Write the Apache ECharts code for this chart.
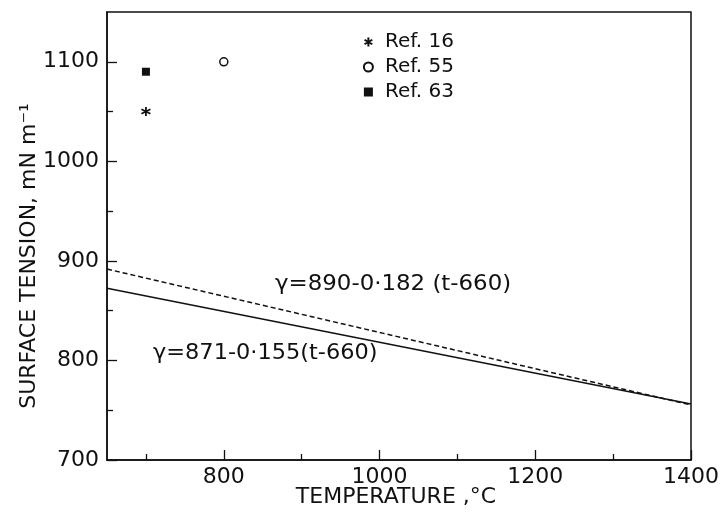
<!DOCTYPE html>
<html><head><meta charset="utf-8">
<script src="https://cdn.jsdelivr.net/npm/echarts@6/dist/echarts.min.js"></script>
<style>html,body{margin:0;padding:0;background:#fff}#c{width:722px;height:512px}</style>
</head><body><div id="c"></div>
<script>
// Data
const ref16 = [[700, 1050]];
const ref55 = [[800, 1100]];
const ref63 = [[700, 1090]];
const fitSolid = [[650, 872.6], [1400, 756.3]];   // γ=871-0·155(t-660)
const fitDashed = [[650, 891.8], [1400, 755.3]];  // γ=890-0·182(t-660)
const xMajorTicks = [800, 1000, 1200, 1400];
const xMinorTicks = [700, 900, 1100, 1300];
const yMajorTicks = [700, 800, 900, 1000, 1100];
const yMinorTicks = [750, 850, 950, 1050];
const seriesNames = ['Ref. 16', 'Ref. 55', 'Ref. 63'];

const FONT = 'DejaVu Sans';
const INK = '#111';
const starPath = 'path://M0,-10L0,10M-8.66,-5L8.66,5M-8.66,5L8.66,-5';
const fmt = v => String(v);

const chart = echarts.init(document.getElementById('c'));
const baseX = {type: 'value', min: 650, max: 1400, splitLine: {show: false}, gridIndex: 0, position: 'bottom'};
const baseY = {type: 'value', min: 700, max: 1150, splitLine: {show: false}, gridIndex: 0, position: 'left'};
chart.setOption({
  animation: false,
  backgroundColor: '#fff',
  grid: {left: 107, right: 27, top: 12, bottom: 52, show: true, borderColor: INK, borderWidth: 1.5, backgroundColor: 'transparent'},
  xAxis: [
    Object.assign({}, baseX, {
      axisLine: {show: true, lineStyle: {color: INK, width: 1.5}},
      axisTick: {show: true, inside: true, length: 10, customValues: xMajorTicks, lineStyle: {color: INK, width: 1.3}},
      axisLabel: {show: true, customValues: xMajorTicks, formatter: fmt, color: INK, fontFamily: FONT, fontSize: 22, margin: 6}
    }),
    Object.assign({}, baseX, {
      axisLine: {show: false},
      axisTick: {show: true, inside: true, length: 6, customValues: xMinorTicks, lineStyle: {color: INK, width: 1.3}},
      axisLabel: {show: false}
    })
  ],
  yAxis: [
    Object.assign({}, baseY, {
      axisLine: {show: true, lineStyle: {color: INK, width: 1.5}},
      axisTick: {show: true, inside: true, length: 10, customValues: yMajorTicks, lineStyle: {color: INK, width: 1.3}},
      axisLabel: {show: true, customValues: yMajorTicks, formatter: fmt, color: INK, fontFamily: FONT, fontSize: 22, margin: 8}
    }),
    Object.assign({}, baseY, {
      axisLine: {show: false},
      axisTick: {show: true, inside: true, length: 6, customValues: yMinorTicks, lineStyle: {color: INK, width: 1.3}},
      axisLabel: {show: false}
    })
  ],
  legend: {
    data: seriesNames, orient: 'vertical', left: 362, top: 32, padding: 0, itemGap: 5,
    itemWidth: 9, itemHeight: 9,
    textStyle: {color: INK, fontFamily: FONT, fontSize: 20, padding: [0, 0, 0, 7]}
  },
  series: [
    {name: 'Ref. 16', type: 'scatter', data: ref16, symbol: starPath, symbolSize: 9,
     itemStyle: {color: 'none', borderColor: INK, borderWidth: 1.8, opacity: 1}},
    {name: 'Ref. 55', type: 'scatter', data: ref55, symbol: 'circle', symbolSize: 8,
     itemStyle: {color: '#fff', borderColor: INK, borderWidth: 1.5, opacity: 1}},
    {name: 'Ref. 63', type: 'scatter', data: ref63, symbol: 'rect', symbolSize: 8,
     itemStyle: {color: INK, opacity: 1}},
    {name: 'fit1', type: 'line', data: fitSolid, symbol: 'none', lineStyle: {color: INK, width: 1.5}},
    {name: 'fit2', type: 'line', data: fitDashed, symbol: 'none', lineStyle: {color: INK, width: 1.5, type: [5, 3]}}
  ],
  graphic: [
    {type: 'text', x: 275, y: 273, scaleX: 1.04, style: {text: 'γ=890-0·182 (t-660)', fill: INK, font: '22px "DejaVu Sans"'}},
    {type: 'text', x: 153, y: 342, scaleX: 1.02, style: {text: 'γ=871-0·155(t-660)', fill: INK, font: '22px "DejaVu Sans"'}},
    {type: 'text', x: 396, y: 486, style: {text: 'TEMPERATURE ,°C', fill: INK, font: '22px "DejaVu Sans"', align: 'center', verticalAlign: 'top'}},
    {type: 'text', x: 29, y: 256, rotation: Math.PI / 2, style: {text: 'SURFACE TENSION, mN m⁻¹', fill: INK, font: '22px "DejaVu Sans"', align: 'center', verticalAlign: 'middle'}}
  ]
});
</script></body></html>
